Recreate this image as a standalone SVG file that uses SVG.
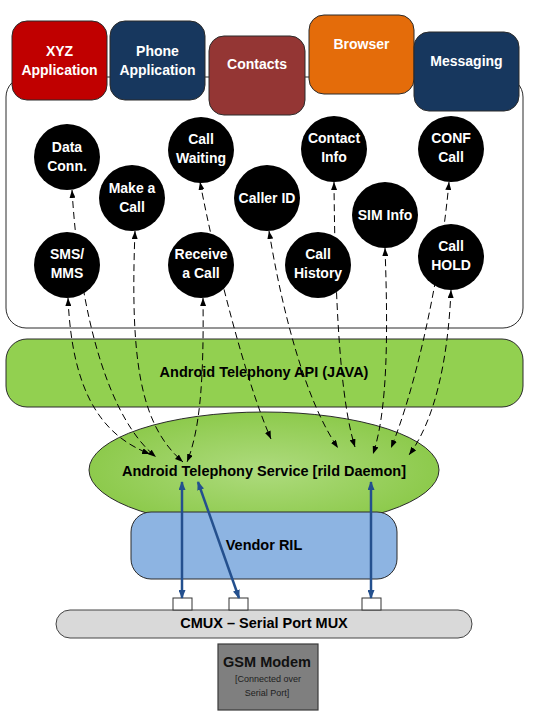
<svg xmlns="http://www.w3.org/2000/svg" width="536" height="722" viewBox="0 0 536 722">
<style>
.lbl{font-family:"Liberation Sans",Arial,sans-serif;font-weight:bold;text-anchor:middle}
.w{fill:#fff;font-size:14px}
.k{fill:#000;font-size:14.5px}
.box{stroke:#2b2b2b;stroke-width:1}
.circ{fill:#000}
.dash{fill:none;stroke:#000;stroke-width:1;stroke-dasharray:7 4;marker-start:url(#ah);marker-end:url(#ah)}
.blue{fill:none;stroke:#24508e;stroke-width:2.5;marker-start:url(#bh);marker-end:url(#bh)}
</style>
<defs>
<marker id="ah" viewBox="0 0 8 6" refX="8" refY="3" markerWidth="8" markerHeight="6" markerUnits="userSpaceOnUse" orient="auto-start-reverse"><path d="M0,0 L8,3 L0,6 z" fill="#000"/></marker>
<marker id="bh" viewBox="0 0 9 7" refX="8" refY="3.5" markerWidth="9" markerHeight="7" markerUnits="userSpaceOnUse" orient="auto-start-reverse"><path d="M0,0 L9,3.5 L0,7 z" fill="#24508e"/></marker>
<radialGradient id="eg" cx="0.5" cy="0.5" r="0.5">
<stop offset="0" stop-color="#aedb7e"/>
<stop offset="1" stop-color="#8dca4c"/>
</radialGradient>
</defs>
<rect width="536" height="722" fill="#fff"/>

<g id="apps-panel"><rect class="box" x="6" y="77" width="517" height="251" rx="20" fill="#fff"/></g>

<g id="xyz-app"><rect class="box" x="12" y="21" width="95" height="79" rx="15" fill="#c00000"/>
<text class="lbl w" x="59.5" y="56">XYZ</text><text class="lbl w" x="59.5" y="75">Application</text></g>
<g id="phone-app"><rect class="box" x="110" y="21" width="95" height="79" rx="15" fill="#17375e"/>
<text class="lbl w" x="157.5" y="56">Phone</text><text class="lbl w" x="157.5" y="75">Application</text></g>
<g id="contacts-app"><rect class="box" x="209" y="36" width="96" height="79" rx="15" fill="#943634"/>
<text class="lbl w" x="257" y="69">Contacts</text></g>
<g id="browser-app"><rect class="box" x="309" y="15" width="105" height="79" rx="15" fill="#e46c0a"/>
<text class="lbl w" x="361.5" y="49">Browser</text></g>
<g id="messaging-app"><rect class="box" x="414" y="32" width="105" height="79" rx="15" fill="#17375e"/>
<text class="lbl w" x="466.5" y="66">Messaging</text></g>

<g id="telephony-api"><rect class="box" x="6" y="339" width="517" height="68" rx="21" fill="#92d050"/>
<text class="lbl k" x="264" y="377">Android Telephony API (JAVA)</text></g>

<g id="telephony-service"><ellipse class="box" cx="264" cy="470" rx="175" ry="58" fill="url(#eg)"/>
<text class="lbl k" x="264" y="476">Android Telephony Service [rild Daemon]</text></g>

<g id="vendor-ril"><rect class="box" x="131" y="512" width="266" height="67" rx="20" fill="#8db4e2"/>
<text class="lbl k" x="264" y="550">Vendor RIL</text></g>

<g id="cmux"><rect x="56" y="610" width="416" height="28" rx="14" fill="#d9d9d9" stroke="#444" stroke-width="1"/>
<text class="lbl k" x="264" y="628">CMUX – Serial Port MUX</text></g>
<g id="port1"><rect x="173" y="598" width="19" height="12" fill="#fff" stroke="#333" stroke-width="1"/></g>
<g id="port2"><rect x="229" y="598" width="19" height="12" fill="#fff" stroke="#333" stroke-width="1"/></g>
<g id="port3"><rect x="362" y="598" width="19" height="12" fill="#fff" stroke="#333" stroke-width="1"/></g>

<g id="gsm-modem"><rect x="218" y="644" width="100" height="66" fill="#7f7f7f" stroke="#3a3a3a" stroke-width="1.2"/>
<text class="lbl" x="267" y="667" font-size="14.5" fill="#111">GSM Modem</text>
<text x="268" y="682" font-family="'Liberation Sans',Arial,sans-serif" font-size="9" fill="#1e1e1e" text-anchor="middle">[Connected over</text>
<text x="267" y="696" font-family="'Liberation Sans',Arial,sans-serif" font-size="9" fill="#1e1e1e" text-anchor="middle">Serial Port]</text></g>

<g id="connectors">
<path class="dash" d="M68,298 C72,390 100,435 150,454"/>
<path class="dash" d="M72,190 C80,320 110,420 156,457"/>
<path class="dash" d="M135,231 C130,360 140,425 183,462"/>
<path class="dash" d="M203,298 C204,380 200,430 187,462"/>
<path class="dash" d="M200,182 C215,260 245,380 271,439"/>
<path class="dash" d="M269,231 C282,310 305,400 338,448"/>
<path class="dash" d="M334,182 C335,300 340,400 355,447"/>
<path class="dash" d="M385,248 C388,330 388,410 373,454"/>
<path class="dash" d="M449,182 C440,280 415,390 391,448"/>
<path class="dash" d="M451,290 C448,360 435,420 409,455"/>
<path class="blue" d="M182,482 L182,598"/>
<path class="blue" d="M198,482 L239,598"/>
<path class="blue" d="M371,482 L371,598"/>
</g>

<g id="data-conn"><circle class="circ" cx="67" cy="157" r="33"/><text class="lbl w" x="67" y="152">Data</text><text class="lbl w" x="67" y="171">Conn.</text></g>
<g id="make-call"><circle class="circ" cx="132" cy="198" r="33"/><text class="lbl w" x="132" y="193">Make a</text><text class="lbl w" x="132" y="212">Call</text></g>
<g id="call-waiting"><circle class="circ" cx="201" cy="150" r="33"/><text class="lbl w" x="201" y="144">Call</text><text class="lbl w" x="201" y="163">Waiting</text></g>
<g id="caller-id"><circle class="circ" cx="267" cy="198" r="33"/><text class="lbl w" x="267" y="203">Caller ID</text></g>
<g id="contact-info"><circle class="circ" cx="334" cy="149" r="33"/><text class="lbl w" x="334" y="143">Contact</text><text class="lbl w" x="334" y="162">Info</text></g>
<g id="sim-info"><circle class="circ" cx="385" cy="215" r="33"/><text class="lbl w" x="385" y="220">SIM Info</text></g>
<g id="conf-call"><circle class="circ" cx="451" cy="149" r="33"/><text class="lbl w" x="451" y="143">CONF</text><text class="lbl w" x="451" y="162">Call</text></g>
<g id="sms-mms"><circle class="circ" cx="67" cy="265" r="33"/><text class="lbl w" x="67" y="259">SMS/</text><text class="lbl w" x="67" y="278">MMS</text></g>
<g id="receive-call"><circle class="circ" cx="201" cy="265" r="33"/><text class="lbl w" x="201" y="259">Receive</text><text class="lbl w" x="201" y="278">a Call</text></g>
<g id="call-history"><circle class="circ" cx="318" cy="265" r="33"/><text class="lbl w" x="318" y="259">Call</text><text class="lbl w" x="318" y="278">History</text></g>
<g id="call-hold"><circle class="circ" cx="451" cy="257" r="33"/><text class="lbl w" x="451" y="251">Call</text><text class="lbl w" x="451" y="270">HOLD</text></g>
</svg>
